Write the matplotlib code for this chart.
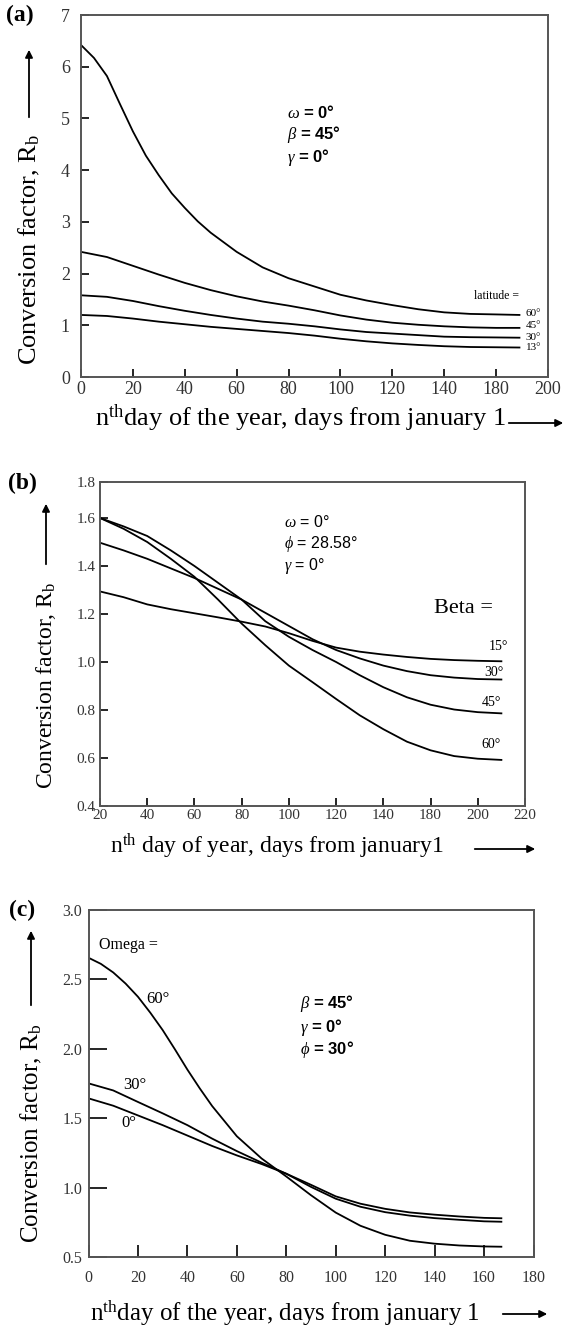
import matplotlib
matplotlib.use("Agg")
import matplotlib.pyplot as plt

plt.rcParams['font.family'] = 'Liberation Serif'
plt.rcParams['mathtext.fontset'] = 'custom'
plt.rcParams['mathtext.rm'] = 'Liberation Serif'
plt.rcParams['mathtext.it'] = 'Liberation Serif:italic'
plt.rcParams['mathtext.bf'] = 'Liberation Serif:bold'

# ---- panel (a): latitude, omega=0, beta=45, gamma=0
days_a = [0, 10, 20, 30, 40, 50, 60, 70, 80, 90, 100, 110, 120, 130, 140, 150, 160, 169]
days_a_60 = [0, 5, 10, 15, 20, 25, 30, 35, 40, 45, 50, 60, 70, 80, 90, 100, 110, 120, 130, 140, 150, 160, 169]
rb_a_60 = [6.42, 6.17, 5.82, 5.28, 4.75, 4.28, 3.90, 3.55, 3.27, 3.01, 2.79, 2.42, 2.12, 1.91, 1.75, 1.59,
           1.48, 1.39, 1.31, 1.25, 1.22, 1.21, 1.20]
rb_a_45 = [2.42, 2.32, 2.15, 1.98, 1.82, 1.68, 1.56, 1.46, 1.38, 1.29, 1.19, 1.11, 1.05, 1.01, 0.98, 0.96, 0.95, 0.95]
rb_a_30 = [1.58, 1.55, 1.47, 1.37, 1.28, 1.20, 1.13, 1.07, 1.03, 0.98, 0.92, 0.87, 0.84, 0.81, 0.78, 0.77, 0.765, 0.76]
rb_a_13 = [1.20, 1.18, 1.13, 1.07, 1.02, 0.97, 0.93, 0.89, 0.85, 0.80, 0.74, 0.69, 0.65, 0.62, 0.595, 0.58, 0.575, 0.57]
lat_labels = ['60°', '45°', '30°', '13°']
xticks_a = [0, 20, 40, 60, 80, 100, 120, 140, 160, 180]
xticklabels_a = ['0', '20', '40', '60', '80', '100', '120', '140', '180', '200']

# ---- panel (b): beta, omega=0, phi=28.58, gamma=0
days_b = [20, 30, 40, 50, 60, 70, 80, 90, 100, 110, 120, 130, 140, 150, 160, 170, 180, 190]
rb_b_15 = [1.294, 1.27, 1.24, 1.22, 1.203, 1.186, 1.168, 1.148, 1.12, 1.088, 1.06, 1.043, 1.031, 1.021, 1.013, 1.008, 1.005, 1.003]
rb_b_30 = [1.497, 1.465, 1.43, 1.39, 1.35, 1.305, 1.26, 1.205, 1.15, 1.095, 1.05, 1.015, 0.985, 0.962, 0.945, 0.935, 0.929, 0.927]
rb_b_45 = [1.60, 1.565, 1.525, 1.465, 1.40, 1.33, 1.26, 1.17, 1.105, 1.05, 1.00, 0.945, 0.895, 0.853, 0.822, 0.802, 0.791, 0.786]
rb_b_60 = [1.60, 1.555, 1.50, 1.43, 1.355, 1.26, 1.16, 1.07, 0.985, 0.916, 0.846, 0.778, 0.72, 0.668, 0.632, 0.608, 0.597, 0.592]
beta_labels = ['15°', '30°', '45°', '60°']
xticks_b = [20, 40, 60, 80, 100, 120, 140, 160, 180, 200]
xticklabels_b = ['20', '40', '60', '80', '100', '120', '140', '180', '200', '220']
yticks_b = [0.4, 0.6, 0.8, 1.0, 1.2, 1.4, 1.6, 1.75]
yticklabels_b = ['0.4', '0.6', '0.8', '1.0', '1.2', '1.4', '1.6', '1.8']

# ---- panel (c): omega, beta=45, gamma=0, phi=30
days_c = [0, 10, 20, 30, 40, 50, 60, 70, 80, 90, 100, 110, 120, 130, 140, 150, 160, 167]
days_c_60 = [0, 5, 10, 15, 20, 25, 30, 35, 40, 45, 50, 60, 70, 80, 90, 100, 110, 120, 130, 140, 150, 160, 167]
rb_c_60 = [2.656, 2.612, 2.55, 2.47, 2.375, 2.26, 2.135, 1.995, 1.85, 1.715, 1.588, 1.37, 1.21, 1.08, 0.945,
           0.82, 0.725, 0.66, 0.617, 0.596, 0.583, 0.576, 0.574]
rb_c_30 = [1.751, 1.70, 1.617, 1.535, 1.45, 1.353, 1.263, 1.18, 1.10, 1.005, 0.92, 0.862, 0.823, 0.798, 0.78, 0.768, 0.757, 0.754]
rb_c_0 = [1.643, 1.59, 1.52, 1.45, 1.375, 1.30, 1.232, 1.17, 1.10, 1.02, 0.937, 0.884, 0.847, 0.821, 0.805, 0.792, 0.782, 0.779]
omega_labels = ['60°', '30°', '0°']
xticks_c = [0, 20, 40, 60, 80, 100, 120, 140, 160, 180]
yticks_c = [0.5, 1.0, 1.5, 2.0, 2.5, 3.0]

W, H = 571, 1329
fig = plt.figure(figsize=(W / 100, H / 100), dpi=100)


def box(l, t, r, b):
    return [l / W, 1 - b / H, (r - l) / W, (b - t) / H]


def ftext(x, y, s, **kw):
    # place text using reference pixel coords (top origin)
    fig.text(x / W, 1 - y / H, s, **kw)


def arrow(x0, y0, x1, y1):
    fig.add_artist(matplotlib.patches.FancyArrowPatch(
        (x0 / W, 1 - y0 / H), (x1 / W, 1 - y1 / H), transform=fig.transFigure,
        arrowstyle='-|>', mutation_scale=11, lw=1.3, color='black'))


def style(ax, tsize, xpad, ypad, ylen, xlen):
    for s in ax.spines.values():
        s.set_color('#555555')
        s.set_linewidth(1.4)
    ax.tick_params(axis='x', direction='in', length=xlen, width=1.2, pad=xpad,
                   labelsize=tsize, labelcolor='#333333', top=False)
    ax.tick_params(axis='y', direction='in', length=ylen, width=1.2, pad=ypad,
                   labelsize=tsize, labelcolor='#333333', right=False)


lw = 1.3

# ---------------- (a)
ax = fig.add_axes(box(81, 15, 548, 377))
ax.plot(days_a_60, rb_a_60, color='black', lw=lw)
for rb in [rb_a_45, rb_a_30, rb_a_13]:
    ax.plot(days_a, rb, color='black', lw=lw)
ax.set_xlim(0, 180)
ax.set_ylim(0, 7)
ax.set_xticks(xticks_a)
ax.set_xticklabels(xticklabels_a)
ax.set_yticks(range(0, 8))
style(ax, 13, 3, 8, 6, 6)

ftext(20, 15, '(a)', fontsize=17, fontweight='bold', ha='center', va='center')
ftext(29, 249, 'Conversion factor, R$_\\mathrm{b}$', fontsize=19, rotation=90, ha='center', va='center')
arrow(29, 120, 29, 47)
ftext(95, 418, 'n$^\\mathrm{th}$day of the year, days from january 1', fontsize=19, ha='left', va='center')
arrow(506, 423, 566, 423)
for i, s in enumerate(['$\\omega$ = 0°', '$\\beta$ = 45°', '$\\gamma$ = 0°']):
    ftext(287, 112 + 22.5 * i, s, fontsize=12, family='Liberation Sans', fontweight='bold', va='center')
ftext(474, 296, 'latitude =', fontsize=8.5, va='center')
for s, y in zip(lat_labels, [314, 326, 337, 348]):
    ftext(526, y, s, fontsize=8, va='center')

# ---------------- (b)
ax = fig.add_axes(box(100, 482, 525, 806))
for rb in [rb_b_15, rb_b_30, rb_b_45, rb_b_60]:
    ax.plot(days_b, rb, color='black', lw=lw)
ax.set_xlim(20, 200)
ax.set_ylim(0.4, 1.75)
ax.set_xticks(xticks_b)
ax.set_xticklabels(xticklabels_b)
ax.set_yticks(yticks_b)
ax.set_yticklabels(yticklabels_b)
style(ax, 11, 2, 3, 6, 6)

ftext(22, 483, '(b)', fontsize=17, fontweight='bold', ha='center', va='center')
ftext(46, 685, 'Conversion factor, R$_\\mathrm{b}$', fontsize=17, rotation=90, ha='center', va='center')
arrow(46, 567, 46, 501)
ftext(110, 846, 'n$^\\mathrm{th}$ day of year, days from january1', fontsize=17, ha='left', va='center')
arrow(472, 849, 538, 849)
for i, s in enumerate(['$\\omega$ = 0°', '$\\phi$ = 28.58°', '$\\gamma$ = 0°']):
    ftext(284, 522 + 22 * i, s, fontsize=11.5, family='Liberation Sans', va='center')
ftext(434, 608, 'Beta =', fontsize=16, va='center')
for s, x, y in zip(beta_labels, [489, 484, 482, 481], [646, 672, 702, 745]):
    ftext(x, y, s, fontsize=10, va='center')

# ---------------- (c)
ax = fig.add_axes(box(88.5, 910, 533.5, 1257))
ax.plot(days_c_60, rb_c_60, color='black', lw=lw)
for rb in [rb_c_30, rb_c_0]:
    ax.plot(days_c, rb, color='black', lw=lw)
ax.set_xlim(0, 180)
ax.set_ylim(0.5, 3.0)
ax.set_xticks(xticks_c)
ax.set_yticks(yticks_c)
ax.set_yticklabels(['%.1f' % v for v in yticks_c])
style(ax, 11.5, 9, 4.5, 13, 9)

ftext(22, 910, '(c)', fontsize=17, fontweight='bold', ha='center', va='center')
ftext(31, 1133, 'Conversion factor, R$_\\mathrm{b}$', fontsize=18, rotation=90, ha='center', va='center')
arrow(31, 1008, 31, 928)
ftext(90, 1313, 'n$^\\mathrm{th}$day of the year, days from january 1', fontsize=18, ha='left', va='center')
arrow(500, 1314, 550, 1314)
for i, s in enumerate(['$\\beta$ = 45°', '$\\gamma$ = 0°', '$\\phi$ = 30°']):
    ftext(300, 1004 + 23 * i, s, fontsize=12, family='Liberation Sans', fontweight='bold', va='center')
ftext(99, 945, 'Omega =', fontsize=11.5, va='center')
for s, x, y in zip(omega_labels, [146, 123, 121], [999, 1085, 1123]):
    ftext(x, y, s, fontsize=12, va='center')

fig.savefig('out.png', dpi=100)
